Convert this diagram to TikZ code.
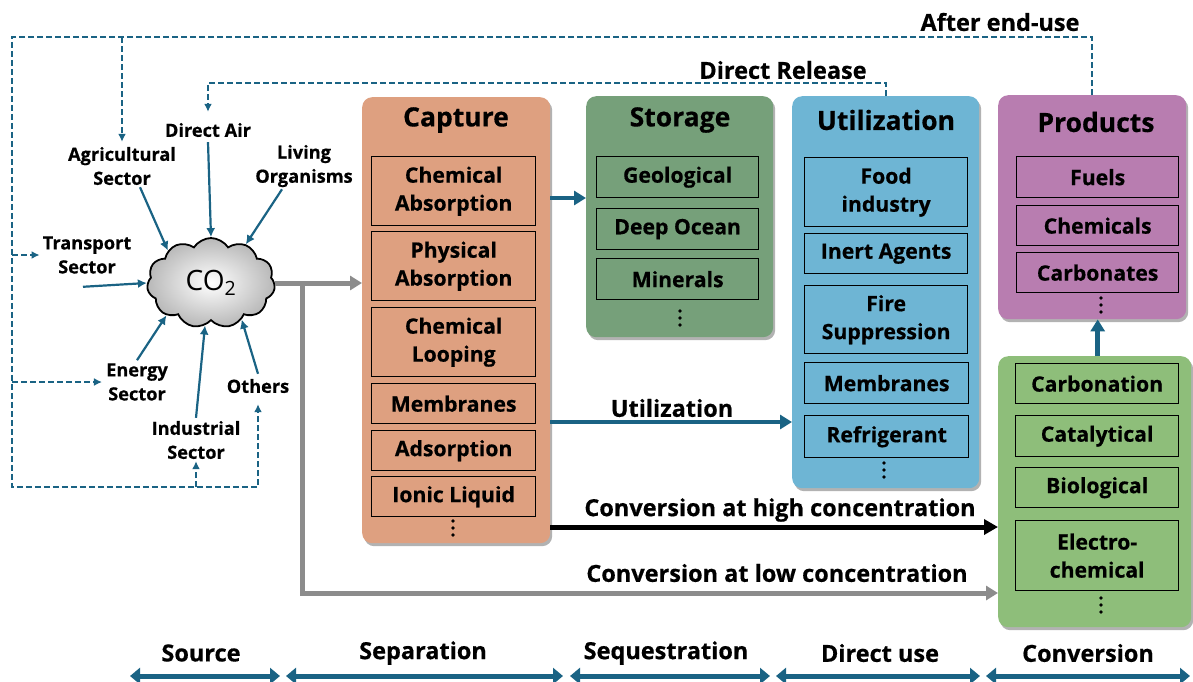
\documentclass[tikz,border=0pt]{standalone}
\usepackage{fontspec}
\setmainfont{Open Sans}[BoldFeatures={FakeBold=0.5}]
\usetikzlibrary{arrows.meta,shapes.symbols,shadows,calc}
\definecolor{capcol}{RGB}{222,160,128}
\definecolor{stocol}{RGB}{118,160,122}
\definecolor{utilcol}{RGB}{110,181,212}
\definecolor{prodcol}{RGB}{184,125,176}
\definecolor{convcol}{RGB}{142,190,122}
\definecolor{arrblue}{RGB}{26,99,132}
\definecolor{grayarr}{RGB}{140,140,140}
\tikzset{
  panel/.style={rounded corners=10pt, anchor=north west, inner sep=0pt,
    drop shadow={shadow xshift=2pt, shadow yshift=-3pt, opacity=0.3, fill=black}},
  item/.style={draw=black, line width=1.3pt, anchor=north west, align=center, inner sep=1pt,
    minimum width=164pt, font=\bfseries\fontsize{21.2}{28}\selectfont},
  ttl/.style={font=\bfseries\fontsize{26.5}{30}\selectfont},
  dotbox/.style={minimum width=6pt, minimum height=20pt, inner sep=0pt,
    path picture={\fill (path picture bounding box.center) circle (1.9pt) ++(0,7pt) circle (1.9pt) ++(0,-14pt) circle (1.9pt);}},
  src/.style={align=center, font=\bfseries\fontsize{18.2}{24}\selectfont, inner sep=1pt},
  srcarr/.style={draw=arrblue, line width=2.2pt, -{Latex[length=9pt,width=9pt]}},
  dsh/.style={draw=arrblue, line width=2pt, dash pattern=on 6pt off 3pt},
  dsharr/.style={dsh, -{Latex[length=8pt,width=8pt]}},
  lbl/.style={font=\bfseries\fontsize{23.5}{26}\selectfont, inner sep=1pt},
  bluearr/.style={draw=arrblue, line width=4.5pt, -{Triangle[length=12pt,width=14pt]}},
  grayline/.style={draw=grayarr, line width=5pt},
  grayarrow/.style={grayline, -{Triangle[length=12pt,width=14pt]}},
  blackarr/.style={draw=black, line width=5pt, -{Triangle[length=14pt,width=15pt]}},
  botarr/.style={draw=arrblue, line width=5pt, {Triangle[length=10pt,width=16pt]}-{Triangle[length=10pt,width=16pt]}},
  botlbl/.style={font=\bfseries\fontsize{23.5}{26}\selectfont, inner sep=1pt},
}
\begin{document}
\begin{tikzpicture}[x=1pt,y=-1pt]
\useasboundingbox (0,0) rectangle (1193,681);
% ---------- panels ----------
\node[panel, fill=capcol, minimum width=188pt, minimum height=446pt] (cap) at (362,97) {};
\node[panel, fill=stocol, minimum width=187pt, minimum height=241pt] (sto) at (586,96) {};
\node[panel, fill=utilcol, minimum width=187pt, minimum height=392pt] (util) at (792,96) {};
\node[panel, fill=prodcol, minimum width=188pt, minimum height=224pt] (prod) at (998,95) {};
\node[panel, fill=convcol, minimum width=193pt, minimum height=271pt] (conv) at (998,356) {};
% ---------- titles ----------
\node[ttl] (capt) at (456,120) {Capture};
\node[ttl] (stot) at (680,120) {Storage};
\node[ttl] (utilt) at (886,120) {Utilization};
\node[ttl] (prodt) at (1096,122) {Products};
% ---------- capture items ----------
\node[item, minimum height=69pt] (c1) at (371,156) {Chemical\\Absorption};
\node[item, minimum height=69pt] (c2) at (371,231) {Physical\\Absorption};
\node[item, minimum height=69pt] (c3) at (371,307) {Chemical\\Looping};
\node[item, minimum height=40pt] (c4) at (371,383) {Membranes};
\node[item, minimum height=40pt] (c5) at (371,430) {Adsorption};
\node[item, minimum height=40pt] (c6) at (371,476) {Ionic Liquid};
\node[dotbox] (cd) at (453,528) {};
% ---------- storage items ----------
\node[item, minimum height=41pt, minimum width=162pt] (s1) at (596,156) {Geological};
\node[item, minimum height=41pt, minimum width=162pt] (s2) at (596,208) {Deep Ocean};
\node[item, minimum height=41pt, minimum width=162pt] (s3) at (596,258) {Minerals};
\node[dotbox] (sd) at (680,318) {};
% ---------- utilization items ----------
\node[item, minimum height=69pt, minimum width=163pt] (u1) at (804,157) {Food\\industry};
\node[item, minimum height=40pt, minimum width=163pt] (u2) at (804,233) {Inert Agents};
\node[item, minimum height=68pt, minimum width=163pt] (u3) at (804,285) {Fire\\Suppression};
\node[item, minimum height=41pt, minimum width=164pt] (u4) at (804,362) {Membranes};
\node[item, minimum height=42pt, minimum width=164pt] (u5) at (804,415) {Refrigerant};
\node[dotbox] (ud) at (884,470) {};
% ---------- products items ----------
\node[item, minimum height=41pt, minimum width=162pt] (p1) at (1016,156) {Fuels};
\node[item, minimum height=40pt, minimum width=162pt] (p2) at (1016,205) {Chemicals};
\node[item, minimum height=40pt, minimum width=162pt] (p3) at (1016,252) {Carbonates};
\node[dotbox] (pd) at (1101,305) {};
% ---------- conversion items ----------
\node[item, minimum height=40pt, minimum width=163pt] (v1) at (1015,363) {Carbonation};
\node[item, minimum height=41pt, minimum width=163pt] (v2) at (1015,415) {Catalytical};
\node[item, minimum height=40pt, minimum width=163pt] (v3) at (1015,467) {Biological};
\node[item, minimum height=70pt, minimum width=163pt] (v4) at (1015,520) {Electro-\\chemical};
\node[dotbox] (vd) at (1101,605) {};
% ---------- CO2 cloud ----------
\node[cloud, cloud puffs=11, cloud puff arc=115, aspect=1.45, draw=black, line width=1.8pt,
  inner color=white, outer color=black!28, minimum width=128pt, minimum height=90pt,
  font=\fontsize{28}{30}\selectfont] (co2) at (211,283) {CO\textsubscript{2}};
% ---------- sources ----------
\node[src] (da) at (208,130) {Direct Air};
\node[src] (agri) at (122,166) {Agricultural\\Sector};
\node[src] (liv) at (304,166) {Living\\Organisms};
\node[src] (tra) at (87,255) {Transport\\Sector};
\node[src] (ene) at (137,382) {Energy\\Sector};
\node[src] (ind) at (196,440) {Industrial\\Sector};
\node[src] (oth) at (258,386) {Others};
\draw[srcarr] ([yshift=-4pt]da.south) -- (co2.north);
\draw[srcarr] ([xshift=18pt,yshift=-1pt]agri.south) -- (co2.143);
\draw[srcarr] ([xshift=-22pt,yshift=-1pt]liv.south) -- (co2.48);
\draw[srcarr] ([xshift=-4pt,yshift=-12pt]tra.south) -- (co2.west);
\draw[srcarr] ([yshift=2pt]ene.north) -- (co2.216);
\draw[srcarr] ([yshift=2pt]ind.north) -- (co2.262);
\draw[srcarr] ([yshift=4pt]oth.north) -- (co2.310);
% ---------- dashed feedback ----------
\coordinate (tl) at (12,37);
\coordinate (bl) at (12,487);
\coordinate (dry) at (0,83);
\draw[dsharr] (prod.north) |- (tl) -- (bl) -| ([yshift=-10pt]oth.south);
\draw[dsharr] (ind.south |- bl) -- ([yshift=-1pt]ind.south);
\draw[dsharr] (tl |- tra.west) -- ([xshift=-2pt]tra.west);
\draw[dsharr] (tl |- ene.west) -- ([xshift=-3pt]ene.west);
\draw[dsharr] (agri.north |- tl) -- ([yshift=4pt]agri.north);
\draw[dsharr] (util.north) |- (da.north |- dry) -- ([yshift=10pt]da.north);
\node[lbl] (ael) at (1000,22) {After end-use};
\node[lbl] (drl) at (783,70) {Direct Release};
% ---------- main flows ----------
\coordinate (br) at (302,283);
\coordinate (lowy) at (0,593);
\coordinate (highy) at (0,527);
\coordinate (uy) at (0,422);
\coordinate (sy) at (0,198);
\draw[grayarrow] (co2.east) -- (co2.east -| cap.west);
\draw[grayarrow] (br) |- (conv.west |- lowy);
\draw[blackarr] (cap.east |- highy) -- (conv.west |- highy);
\draw[bluearr] (cap.east |- uy) -- (util.west |- uy);
\draw[bluearr] (cap.east |- sy) -- (sto.west |- sy);
\draw[bluearr] ([xshift=3pt]conv.north) -- ([xshift=3pt]conv.north |- prod.south);
\node[lbl] (ul) at (672,408) {Utilization};
\node[lbl] (hl) at (780,510) {Conversion at high concentration};
\node[lbl] (ll) at (777,573) {Conversion at low concentration};
% ---------- bottom stages ----------
\coordinate (b0) at (130,676);
\coordinate (b1) at (280,676);
\coordinate (b2) at (286,676);
\coordinate (b3) at (563,676);
\coordinate (b4) at (570,676);
\coordinate (b5) at (770,676);
\coordinate (b6) at (776,676);
\coordinate (b7) at (980,676);
\coordinate (b8) at (986,676);
\coordinate (b9) at (1190,676);
\draw[botarr] (b0) -- (b1);
\draw[botarr] (b2) -- (b3);
\draw[botarr] (b4) -- (b5);
\draw[botarr] (b6) -- (b7);
\draw[botarr] (b8) -- (b9);
\node[botlbl] (l1) at (201,653) {Source};
\node[botlbl] (l2) at (423,653) {Separation};
\node[botlbl] (l3) at (666,653) {Sequestration};
\node[botlbl] (l4) at (880,653) {Direct use};
\node[botlbl] (l5) at (1088,653) {Conversion};
\end{tikzpicture}
\end{document}
